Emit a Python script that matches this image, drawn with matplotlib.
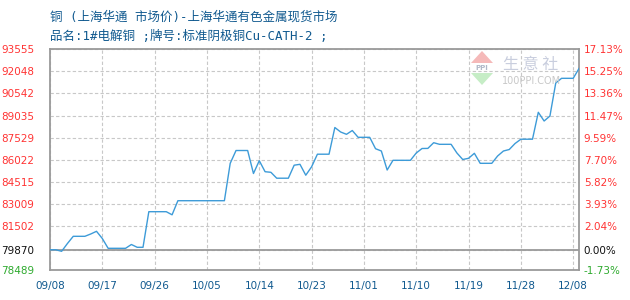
import matplotlib
matplotlib.use('Agg')
import matplotlib.pyplot as plt
import numpy as np
import pandas as pd
from matplotlib.patches import Polygon

plt.rcParams['font.family'] = ['Noto Sans CJK SC', 'DejaVu Sans']

# ---------------- data ----------------
dates = pd.date_range('2025-09-08', '2025-12-08', freq='D')
prices = [
    79870, 79870, 79765, 80298, 80789, 80789, 80789, 80946, 81131, 80639,
    79970, 79970, 79970, 79970, 80230, 80039, 80039, 82469, 82469, 82469,
    82469, 82257,
    83219, 83219, 83219, 83219, 83219, 83219, 83219, 83219, 83219,
    85772, 86646, 86646, 86646, 85076, 85950, 85199, 85158, 84755, 84755,
    84755, 85643, 85704, 84960, 85533, 86394, 86394, 86394, 88216, 87909,
    87752, 88011, 87547, 87547, 87547, 86769, 86612, 85315, 85977, 85977,
    85977, 85977, 86475, 86783, 86790, 87179, 87069, 87069, 87069, 86475,
    86032, 86114, 86455, 85772, 85772, 85772, 86271, 86612, 86714, 87124,
    87417, 87417, 87417, 89254, 88660, 89001, 91254, 91574, 91574, 91574,
    92243,
]
base_price = 79870
y_ticks = [78489, 79870, 81502, 83009, 84515, 86022, 87529, 89035, 90542, 92048, 93555]
x_tick_labels = ['09/08', '09/17', '09/26', '10/05', '10/14', '10/23',
                 '11/01', '11/10', '11/19', '11/28', '12/08']
x_tick_step = 9

title1 = '铜 (上海华通 市场价)-上海华通有色金属现货市场'
title2 = '品名:1#电解铜 ;牌号:标准阴极铜Cu-CATH-2 ;'

# ---------------- styling ----------------
W, H = 630, 300
fig = plt.figure(figsize=(W / 100, H / 100), dpi=100)
fig.patch.set_facecolor('white')
L, R, T, B = 50, 579, 49.3, 270
ax = fig.add_axes([L / W, 1 - B / H, (R - L) / W, (B - T) / H])

days = np.arange(len(prices))
ax.plot(days, prices, color='#3d9bd8', lw=1.0, zorder=3)

ax.set_xlim(0, len(prices) - 1)
ax.set_ylim(y_ticks[0], y_ticks[-1])

xt = [i * x_tick_step for i in range(len(x_tick_labels))]
ax.set_xticks(xt)
ax.set_xticklabels(x_tick_labels, family='DejaVu Sans', fontsize=7.5, color='#10598f')
ax.set_yticks(y_ticks)
ax.set_yticklabels([str(v) for v in y_ticks], family='DejaVu Sans', fontsize=7.5)

red, green, black = '#ff3333', '#2eaa2e', '#111111'
def col(v):
    return red if v > base_price else (black if v == base_price else green)

for lab, v in zip(ax.get_yticklabels(), y_ticks):
    lab.set_color(col(v))

ax.grid(True, color='#c8c8c8', linestyle=(0, (3, 2)), lw=0.8, zorder=1)
ax.axhline(base_price, color='#9a9a9a', lw=1.3, zorder=2)
ax.tick_params(axis='y', length=0, pad=11.5)
ax.tick_params(axis='x', length=0, pad=8)
for s in ax.spines.values():
    s.set_color('#9a9a9a')
    s.set_linewidth(1.3)

ax2 = ax.twinx()
ax2.set_ylim(ax.get_ylim())
ax2.set_yticks(y_ticks)
ax2.set_yticklabels([f"{(v / base_price - 1) * 100:.2f}%" for v in y_ticks],
                    family='DejaVu Sans', fontsize=7.5)
for lab, v in zip(ax2.get_yticklabels(), y_ticks):
    lab.set_color(col(v))
ax2.tick_params(axis='y', length=0, pad=3.5)
for s in ax2.spines.values():
    s.set_visible(False)

# titles (half-width ASCII in a monospace face, CJK falls back to Noto)
tfam = ['DejaVu Sans Mono', 'Noto Sans CJK SC']
fig.text(L / W, 1 - 17 / H, title1, fontsize=9, color='#10598f', va='center', ha='left', family=tfam)
fig.text(L / W, 1 - 36 / H, title2, fontsize=9, color='#10598f', va='center', ha='left', family=tfam)

# watermark logo
def fp(x, y):
    return (x / W, 1 - y / H)
fig.patches.append(Polygon([fp(471, 63), fp(493, 63), fp(482, 51)], closed=True,
                           transform=fig.transFigure, facecolor='#f5b9b9', edgecolor='none', zorder=0))
fig.patches.append(Polygon([fp(471, 73), fp(493, 73), fp(482, 85)], closed=True,
                           transform=fig.transFigure, facecolor='#c6edc6', edgecolor='none', zorder=0))
fig.text(482 / W, 1 - 68 / H, 'PPI', fontsize=5, color='#b0b8c8', ha='center', va='center',
         family='DejaVu Sans', weight='bold')
fig.text(531 / W, 1 - 64 / H, '生 意 社', fontsize=11.5, color='#c9cede', ha='center', va='center')
fig.text(532 / W, 1 - 81 / H, '100PPI.COM', fontsize=7, color='#c8c8c8', ha='center', va='center',
         family='DejaVu Sans')

fig.savefig('out.png', dpi=100)
